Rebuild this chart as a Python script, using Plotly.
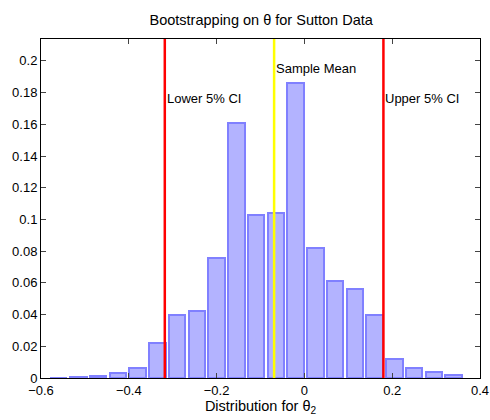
import plotly.graph_objects as go

# Bin centers and relative frequencies
bin_centers = [-0.56, -0.515, -0.47, -0.425, -0.38, -0.335, -0.29, -0.245, -0.2,
               -0.155, -0.11, -0.065, -0.02, 0.025, 0.07, 0.115, 0.16, 0.205,
               0.25, 0.295, 0.34]
frequencies = [0.0, 0.0006, 0.0012, 0.003, 0.0065, 0.0223, 0.040, 0.042, 0.0755,
               0.1606, 0.103, 0.104, 0.1862, 0.082, 0.0612, 0.0564, 0.040, 0.0117,
               0.0063, 0.004, 0.0016]

lower_ci = -0.318
sample_mean = -0.069
upper_ci = 0.18

x_ticks = [-0.6, -0.4, -0.2, 0, 0.2, 0.4]
y_ticks = [0, 0.02, 0.04, 0.06, 0.08, 0.1, 0.12, 0.14, 0.16, 0.18, 0.2]
y_max = 0.2138

FAM = "Liberation Sans, Arial, Helvetica, sans-serif"

fig = go.Figure()
fig.add_trace(go.Bar(
    x=bin_centers, y=frequencies, width=0.0375,
    marker=dict(color="rgb(179,179,255)", line=dict(color="rgb(128,128,255)", width=2)),
    showlegend=False,
))

for xv, col in [(lower_ci, "#ff0000"), (sample_mean, "#ffff00"), (upper_ci, "#ff0000")]:
    fig.add_shape(type="line", xref="x", yref="paper", x0=xv, x1=xv, y0=0, y1=1,
                  line=dict(color=col, width=2.5))

font = dict(family=FAM, size=13, color="black")
annots = [
    (lower_ci, 0.176, "Lower 5% CI"),
    (sample_mean, 0.1955, "Sample Mean"),
    (upper_ci, 0.176, "Upper 5% CI"),
]
for xv, yv, txt in annots:
    fig.add_annotation(x=xv, y=yv, text=txt, showarrow=False, xanchor="left",
                       yanchor="middle", xshift=0, font=font)

fig.update_layout(
    width=490, height=420,
    margin=dict(l=41, r=10, t=39, b=42, autoexpand=False),
    paper_bgcolor="white", plot_bgcolor="white",
    font=font,
    title=dict(text="Bootstrapping on θ for Sutton Data", x=0.533, xanchor="center",
               y=0.952, yanchor="middle", automargin=False,
               font=dict(size=14.5, family=FAM, color="black")),
    bargap=0,
)
fig.update_xaxes(range=[-0.6, 0.4], tickvals=x_ticks, ticks="inside", ticklen=5,
                 showline=True, linecolor="black", linewidth=1, mirror="allticks",
                 showgrid=False, zeroline=False, automargin=False,
                 tickfont=dict(size=13, family=FAM, color="black"),
                 title=dict(text="Distribution for θ<sub>2</sub>", standoff=0,
                            font=dict(size=14.5, family=FAM, color="black")))
fig.update_yaxes(range=[0, y_max], tickvals=y_ticks, ticks="inside", ticklen=5,
                 showline=True, linecolor="black", linewidth=1, mirror="allticks",
                 showgrid=False, zeroline=False, automargin=False,
                 tickfont=dict(size=13, family=FAM, color="black"))

fig.write_html("out.html", config={"displayModeBar": False},
               post_script="document.body.style.margin='0';document.body.style.overflow='hidden';")
